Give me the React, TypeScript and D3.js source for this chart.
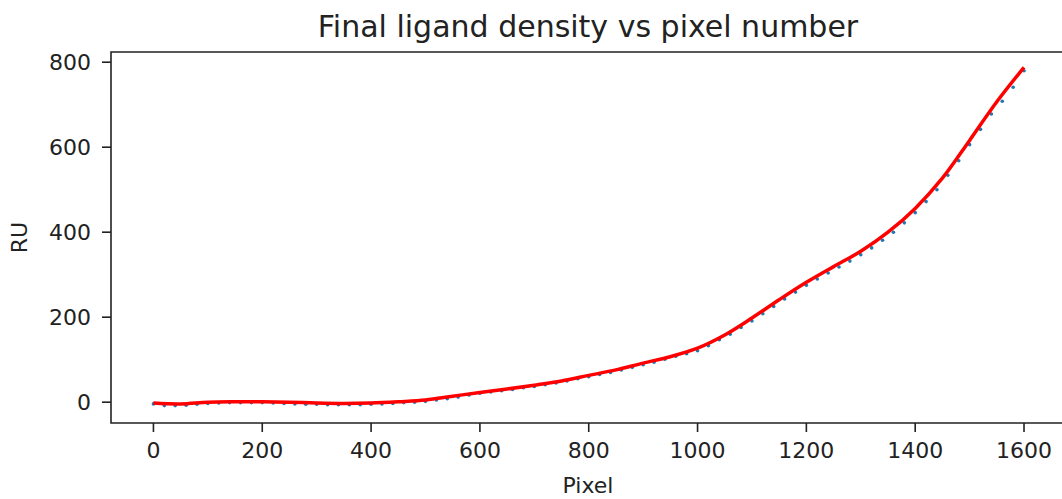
import React from "react";
import * as d3 from "d3";

// measured data (every 20 px) and the smooth fit drawn over it
const pixels = d3.range(0, 1601, 20);
const ruValues = [
  -4, -8, -8, -7, -5, -3, -2, -1, -1, -1,
  -1, -2, -3, -4, -5, -5, -6, -6, -6, -6,
  -5, -4, -3, -1, 0, 2, 5, 8, 12, 17,
  21, 24, 27, 30, 34, 37, 41, 45, 50, 55,
  60, 65, 70, 76, 82, 88, 94, 101, 108, 114,
  121, 133, 147, 160, 176, 191, 208, 225, 243, 259,
  275, 290, 304, 318, 332, 347, 363, 381, 400, 422,
  446, 472, 500, 534, 568, 606, 642, 678, 708, 741,
  780,
];

const fitPixels = [0, 50, 100, 150, 200, 250, 300, 350, 400, 450, 500, 550, 600, 650, 700, 750, 800,
  850, 900, 950, 1000, 1050, 1100, 1150, 1200, 1250, 1300, 1350, 1400, 1450, 1500, 1550, 1600];
const fitValues = [-2, -4, 0, 1, 1, 0, -2, -3, -2, 1, 5, 14, 23, 31, 40, 50, 63,
  76, 92, 107, 127, 158, 198, 241, 282, 319, 355, 400, 456, 527, 616, 707, 788];

const xTicks = [0, 200, 400, 600, 800, 1000, 1200, 1400, 1600];
const yTicks = [0, 200, 400, 600, 800];

const W = 1062;
const H = 499;
const left = 111, right = 1067, top = 52, bottom = 423;
const font = "DejaVu Sans, sans-serif";
const ink = "#222";

export default function App() {
  const x = d3.scaleLinear().domain([-78, 1679]).range([left, right]);
  const y = d3.scaleLinear().domain([-49, 824]).range([bottom, top]);

  const fitLine = d3
    .line<number>()
    .x((_, i) => x(fitPixels[i]))
    .y((d) => y(d))
    .curve(d3.curveCatmullRom);

  return (
    <svg width={W} height={H} style={{ position: "absolute", left: 0, top: 0, background: "#fff" }}>
      <text x={588} y={37} textAnchor="middle" fontFamily={font} fontSize={30} fill={ink}>
        Final ligand density vs pixel number
      </text>

      {ruValues.map((v, i) => (
        <circle key={i} cx={x(pixels[i])} cy={y(v)} r={1.8} fill="#1f77b4" />
      ))}
      <path d={fitLine(fitValues) ?? ""} fill="none" stroke="#ff0000" strokeWidth={3.5} />

      {/* spines */}
      <path d={`M${right},${top}H${left}V${bottom}H${right}`} fill="none" stroke={ink} strokeWidth={1.6} />

      {xTicks.map((t) => (
        <g key={t} transform={`translate(${x(t)},${bottom})`}>
          <line y2={9} stroke={ink} strokeWidth={1.6} />
          <text y={35} textAnchor="middle" fontFamily={font} fontSize={22} fill={ink}>
            {t}
          </text>
        </g>
      ))}
      {yTicks.map((t) => (
        <g key={t} transform={`translate(${left},${y(t)})`}>
          <line x2={-9} stroke={ink} strokeWidth={1.6} />
          <text x={-20} dy="0.35em" textAnchor="end" fontFamily={font} fontSize={22} fill={ink}>
            {t}
          </text>
        </g>
      ))}

      <text x={588} y={493} textAnchor="middle" fontFamily={font} fontSize={22} fill={ink}>
        Pixel
      </text>
      <text
        transform={`translate(27,${(top + bottom) / 2}) rotate(-90)`}
        textAnchor="middle"
        fontFamily={font}
        fontSize={22}
        fill={ink}
      >
        RU
      </text>
    </svg>
  );
}
